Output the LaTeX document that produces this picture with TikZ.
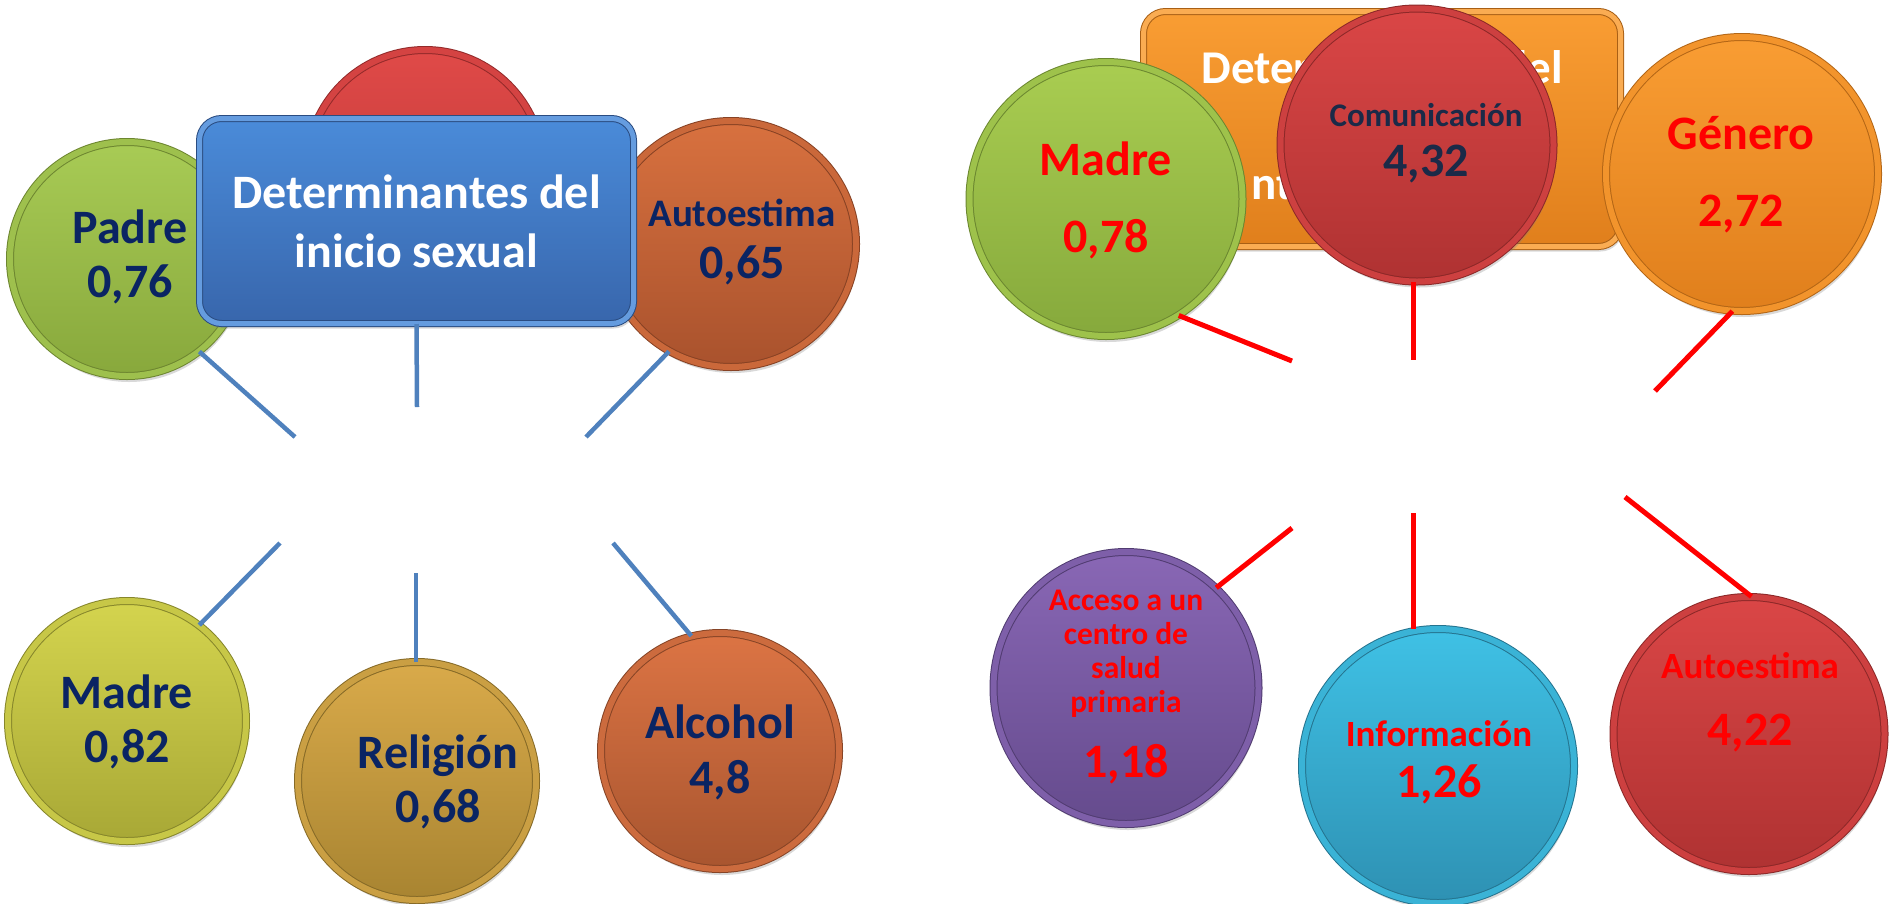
\documentclass[tikz,border=0pt]{standalone}
\usepackage{fontspec}
\setmainfont{Carlito}
\usetikzlibrary{shapes.geometric,shadows}
\lineskiplimit=-200pt

\definecolor{navytext}{HTML}{0A2463}
\definecolor{slatetext}{HTML}{1B2A48}
\definecolor{lineblue}{HTML}{4F81BD}
\definecolor{redtext}{HTML}{FF0000}
% left group
\definecolor{padreA}{HTML}{A8CB55}\definecolor{padreB}{HTML}{88A83C}
\definecolor{rojoA}{HTML}{E04A48}\definecolor{rojoB}{HTML}{B83434}
\definecolor{autoLA}{HTML}{D8713F}\definecolor{autoLB}{HTML}{A9522D}
\definecolor{blueA}{HTML}{4A8BD9}\definecolor{blueB}{HTML}{3866AC}
\definecolor{madreLA}{HTML}{D4D44E}\definecolor{madreLB}{HTML}{A8A836}
\definecolor{religA}{HTML}{D9AA4A}\definecolor{religB}{HTML}{A88431}
\definecolor{alcA}{HTML}{DC7444}\definecolor{alcB}{HTML}{A8552F}
% right group
\definecolor{orangeA}{HTML}{F99D33}\definecolor{orangeB}{HTML}{E07F1C}
\definecolor{madreRA}{HTML}{A9CD51}\definecolor{madreRB}{HTML}{86A93C}
\definecolor{comuA}{HTML}{DA4646}\definecolor{comuB}{HTML}{AF3232}
\definecolor{accesoA}{HTML}{8967B5}\definecolor{accesoB}{HTML}{654B8D}
\definecolor{infoA}{HTML}{3FC1E5}\definecolor{infoB}{HTML}{2E91B3}

\begin{document}
\begin{tikzpicture}[x=1pt, y=-1pt,
    coin/.style 2 args={ellipse, inner sep=0pt, top color=#1, bottom color=#2,
      draw=#2!80!black, double=#1!70!#2, double distance=6pt, line width=1pt,
      drop shadow={shadow xshift=2pt, shadow yshift=-6pt, opacity=.3}},
    dims/.style 2 args={minimum width=#1pt, minimum height=#2pt},
    titlebox/.style 2 args={rectangle, rounded corners=22pt, inner sep=0pt,
      top color=#1, bottom color=#2, draw=#2!75!black, double=#1!85!white,
      double distance=5pt, line width=1pt, text=white, align=center,
      drop shadow={shadow xshift=2pt, shadow yshift=-5pt, opacity=.3}},
    lbl/.style={align=center, inner sep=0pt,
      font=\bfseries\fontsize{48}{54}\selectfont},
    blueline/.style={draw=lineblue, line width=4.5pt},
    redline/.style={draw=redtext, line width=5pt}]

\useasboundingbox (0,0) rectangle (1890,903);

% determinantes del inicio sexual
\node[coin={rojoA}{rojoB}, dims={236}{236}] (rojo) at (425,168) {};
\node[coin={padreA}{padreB}, dims={234}{234}] (padre) at (127,259) {};
\node[lbl, text=navytext] (padre-t) at (130,257) {Padre\\0,76};
\node[coin={autoLA}{autoLB}, dims={250}{246}] (autoL) at (731,244) {};
\node[lbl, text=navytext] (autoL-t) at (742,242)
    {{\fontsize{39}{0}\selectfont Autoestima}\\[-2pt]0,65};
\node[titlebox={blueA}{blueB}, dims={434}{205},
      font=\bfseries\fontsize{48}{59}\selectfont] (titulo) at (416.5,221)
    {Determinantes del\\inicio sexual};

\node[coin={madreLA}{madreLB}, dims={238}{240}] (madreL) at (127,721) {};
\node[lbl, text=navytext] (madreL-t) at (127,722) {Madre\\0,82};
\node[coin={religA}{religB}, dims={238}{238}] (relig) at (417,781) {};
\node[lbl, text=navytext] (relig-t) at (438,782) {Religión\\0,68};
\node[coin={alcA}{alcB}, dims={238}{236}] (alcohol) at (720,751) {};
\node[lbl, text=navytext] (alcohol-t) at (720,752) {Alcohol\\[1pt]4,8};

\coordinate (a1) at (295,437);
\coordinate (a2) at (417,407);
\coordinate (a3) at (586,437);
\coordinate (a4) at (280,543);
\coordinate (a5) at (416,573);
\coordinate (a6) at (613,543);
\draw[blueline] (padre.-52) -- (a1);
\draw[blueline] (titulo.south) -- (a2);
\draw[blueline] (autoL.240) -- (a3);
\draw[blueline] (a4) -- (madreL.53);
\draw[blueline] (a5) -- (a5 |- relig.north);
\draw[blueline] (a6) -- (alcohol.104);

% segundo grupo
\node[titlebox={orangeA}{orangeB}, dims={477}{235},
      font=\bfseries\fontsize{47}{58}\selectfont] (titulo2) at (1382,129)
    {Determinantes del\\\mbox{}\\\phantom{a}nt\phantom{iconceptivos}};
\node[coin={madreRA}{madreRB}, dims={273}{274}] (madreR) at (1106,199) {};
\node[lbl, text=redtext] (madreR-t) at (1106,200) {Madre\\[23pt]0,78};
\node[coin={comuA}{comuB}, dims={273}{273}] (comu) at (1417,145) {};
\node[lbl, text=slatetext] (comu-t) at (1426,143)
    {{\fontsize{33}{0}\selectfont Comunicación}\\[-4pt]4,32};
\node[coin={orangeA}{orangeB}, dims={272}{274}] (genero) at (1742,174) {};
\node[lbl, text=redtext] (genero-t) at (1741,175) {Género\\[23pt]2,72};

\node[coin={accesoA}{accesoB}, dims={265}{272}] (acceso) at (1126,688) {};
\node[lbl, text=redtext, font=\bfseries\fontsize{31.5}{34}\selectfont]
    (acceso-t) at (1126,687)
    {Acceso a un\\centro de\\salud\\primaria\\[31pt]{\fontsize{48}{0}\selectfont 1,18}};
\node[coin={infoA}{infoB}, dims={272}{274}] (info) at (1438,766) {};
\node[lbl, text=redtext] (info-t) at (1439,762)
    {{\fontsize{37}{0}\selectfont Información}\\[-3pt]1,26};
\node[coin={comuA}{comuB}, dims={271}{274}] (autoR) at (1749,734) {};
\node[lbl, text=redtext] (autoR-t) at (1750,702)
    {{\fontsize{37}{0}\selectfont Autoestima}\\[13pt]4,22};

\coordinate (b1) at (1292,361);
\coordinate (b2) at (1413,360);
\coordinate (b3) at (1655,391);
\coordinate (b4) at (1292,528);
\coordinate (b5) at (1413,513);
\coordinate (b6) at (1625,497);
\draw[redline] (madreR.-58) -- (b1);
\draw[redline] (b2 |- comu.south) -- (b2);
\draw[redline] (genero.-94) -- (b3);
\draw[redline] (b4) -- (acceso.48);
\draw[redline] (b5) -- (b5 |- info.north);
\draw[redline] (b6) -- (autoR.89);
\end{tikzpicture}
\end{document}
